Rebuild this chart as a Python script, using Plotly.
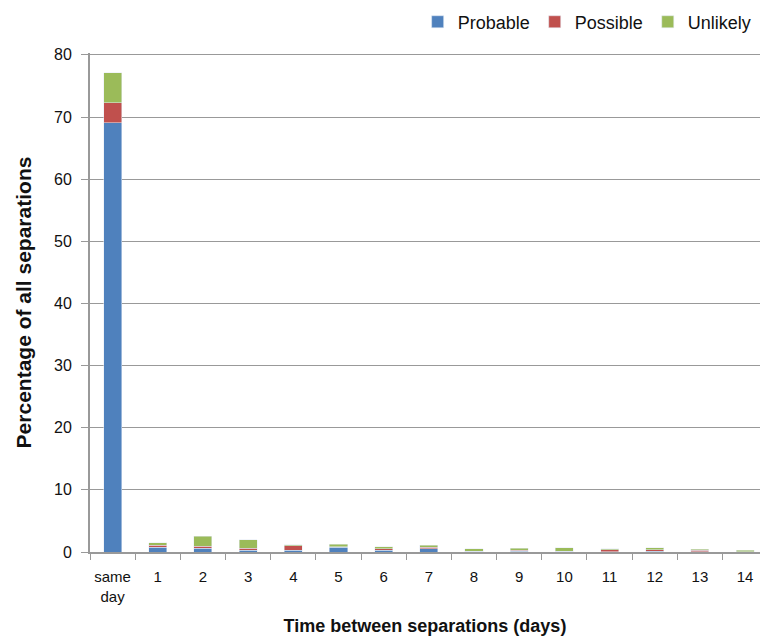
import plotly.graph_objects as go

categories = ["same<br>day", "1", "2", "3", "4", "5", "6", "7", "8", "9", "10", "11", "12", "13", "14"]
probable = [69.1, 0.75, 0.6, 0.3, 0.3, 0.8, 0.32, 0.53, 0.1, 0.12, 0.1, 0.05, 0.1, 0.07, 0.05]
possible = [3.2, 0.32, 0.32, 0.32, 0.7, 0.05, 0.2, 0.2, 0.05, 0.17, 0.05, 0.33, 0.25, 0.2, 0.02]
unlikely = [4.8, 0.43, 1.6, 1.33, 0.16, 0.43, 0.32, 0.32, 0.4, 0.35, 0.55, 0.15, 0.35, 0.16, 0.18]

font = "Liberation Sans, Arial, sans-serif"

fig = go.Figure()
fig.add_bar(x=categories, y=probable, name="Probable", marker_color="#4F81BD")
fig.add_bar(x=categories, y=possible, name="Possible", marker_color="#C0504D")
fig.add_bar(x=categories, y=unlikely, name="Unlikely", marker_color="#9BBB59")

fig.update_layout(
    width=760, height=637,
    barmode="stack", bargap=0.6,
    plot_bgcolor="white", paper_bgcolor="white",
    margin=dict(l=90, r=0, t=53, b=85, autoexpand=False),
    font=dict(family=font, size=15, color="#111"),
    legend=dict(orientation="h", x=0.995, xanchor="right", y=1.062, yanchor="middle",
                font=dict(size=18), itemwidth=30, traceorder="normal"),
    showlegend=True,
)
fig.update_xaxes(
    type="category", range=[-0.5, 14.33], tickson="boundaries", ticks="outside", ticklen=6, tickcolor="#999",
    showline=True, linecolor="#999", linewidth=2, tickangle=0, automargin=False, ticklabelstandoff=10,
    title=dict(text="<b>Time between separations (days)</b>", font=dict(size=18), standoff=16),
    tickfont=dict(size=15),
)
fig.update_yaxes(
    range=[0, 80.3], tickvals=[0, 10, 20, 30, 40, 50, 60, 70, 80], ticks="outside", ticklen=7, tickcolor="#999",
    showline=True, linecolor="#999", linewidth=2, automargin=False, ticklabelstandoff=6,
    showgrid=True, gridcolor="#999", gridwidth=1,
    title=dict(text="<b>Percentage of all separations</b>", font=dict(size=21), standoff=17),
    tickfont=dict(size=16),
)
fig.write_html(
    "out.html",
    config={"displayModeBar": False},
    post_script="document.body.style.margin='0';document.body.style.overflow='hidden';",
)
